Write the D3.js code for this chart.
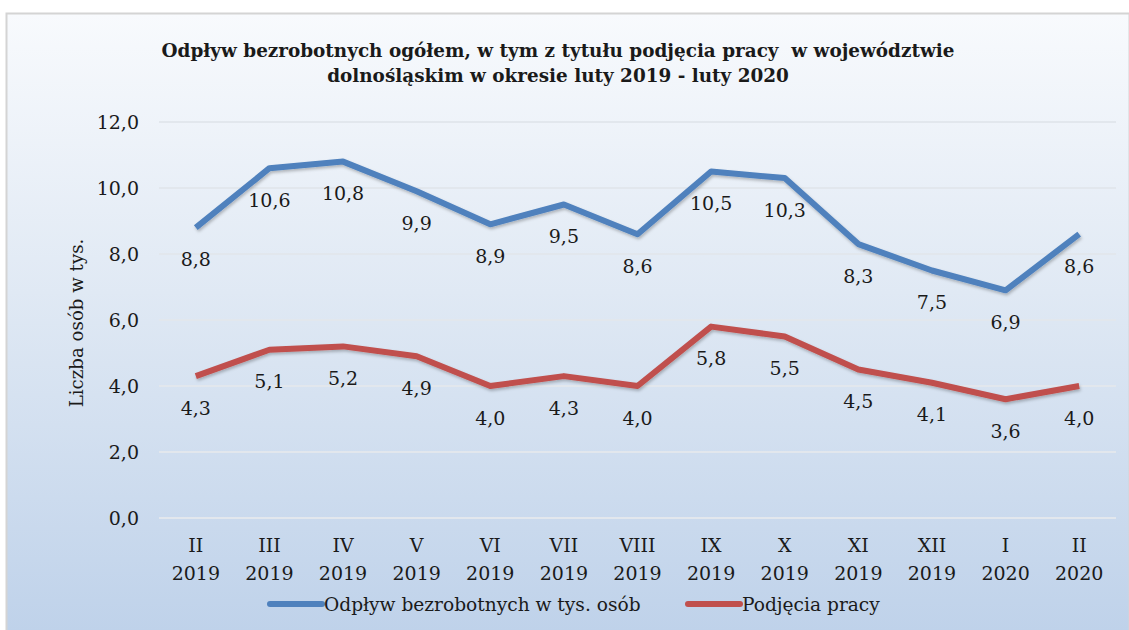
<!DOCTYPE html>
<html>
<head>
<meta charset="utf-8">
<script src="https://cdn.jsdelivr.net/npm/d3@7"></script>
<style>
  body { margin: 0; background: #fff; }
  svg text { font-family: "DejaVu Serif", serif; fill: #1a1a1a; }
</style>
</head>
<body>
<div id="chart"></div>
<script>
var months = ['II', 'III', 'IV', 'V', 'VI', 'VII', 'VIII', 'IX', 'X', 'XI', 'XII', 'I', 'II'];
var years = ['2019', '2019', '2019', '2019', '2019', '2019', '2019', '2019', '2019', '2019', '2019', '2020', '2020'];
var odplyw = [8.8, 10.6, 10.8, 9.9, 8.9, 9.5, 8.6, 10.5, 10.3, 8.3, 7.5, 6.9, 8.6];
var podjecia = [4.3, 5.1, 5.2, 4.9, 4.0, 4.3, 4.0, 5.8, 5.5, 4.5, 4.1, 3.6, 4.0];
var yTicks = [0, 2, 4, 6, 8, 10, 12];
var seriesNames = ['Odpływ bezrobotnych w tys. osób', 'Podjęcia pracy'];
var seriesColors = ['#4f81bd', '#c0504d'];

var width = 1129, height = 630;
var plotLeft = 159, plotRight = 1116, plotTop = 122, plotBottom = 518;

var svg = d3.select('#chart').append('svg')
    .attr('width', width)
    .attr('height', height);

var defs = svg.append('defs');
var grad = defs.append('linearGradient')
    .attr('id', 'bg')
    .attr('x1', 0).attr('y1', 0).attr('x2', 0).attr('y2', 1);
grad.append('stop').attr('offset', '0%').attr('stop-color', '#f8fafd');
grad.append('stop').attr('offset', '45%').attr('stop-color', '#e0e9f4');
grad.append('stop').attr('offset', '100%').attr('stop-color', '#bfd2ea');

var shadow = defs.append('filter').attr('id', 'shadow')
    .attr('x', '-5%').attr('y', '-20%').attr('width', '110%').attr('height', '140%');
shadow.append('feDropShadow')
    .attr('dx', 1).attr('dy', 2).attr('stdDeviation', 1.5)
    .attr('flood-color', '#000').attr('flood-opacity', 0.25);

// chart frame
svg.append('rect')
    .attr('x', 6.5).attr('y', 13.5)
    .attr('width', width - 6).attr('height', height - 12)
    .attr('fill', 'url(#bg)')
    .attr('stroke', '#d4d4d4')
    .attr('stroke-width', 2);

var x = d3.scalePoint().domain(d3.range(months.length)).range([plotLeft, plotRight]).padding(0.5);
var y = d3.scaleLinear().domain([0, 12]).range([plotBottom, plotTop]);

// grid
svg.append('g').selectAll('line')
    .data(yTicks)
    .enter().append('line')
    .attr('x1', plotLeft).attr('x2', plotRight)
    .attr('y1', function(d) { return y(d); })
    .attr('y2', function(d) { return y(d); })
    .attr('stroke', '#e2e7ed')
    .attr('stroke-width', 2);

// y tick labels
svg.append('g').selectAll('text')
    .data(yTicks)
    .enter().append('text')
    .attr('x', 139)
    .attr('y', function(d) { return y(d); })
    .attr('dy', '0.35em')
    .attr('text-anchor', 'end')
    .attr('font-size', 19)
    .text(function(d) { return d3.format('.1f')(d).replace('.', ','); });

// y title
svg.append('text')
    .attr('transform', 'translate(83,' + 323 + ') rotate(-90)')
    .attr('text-anchor', 'middle')
    .attr('font-size', 18.2)
    .text('Liczba osób w tys.');

// x tick labels
var xl = svg.append('g').selectAll('g')
    .data(d3.range(months.length))
    .enter().append('g');
xl.append('text')
    .attr('x', function(d) { return x(d); })
    .attr('y', 552)
    .attr('text-anchor', 'middle')
    .attr('font-size', 19)
    .text(function(d) { return months[d]; });
xl.append('text')
    .attr('x', function(d) { return x(d); })
    .attr('y', 580)
    .attr('text-anchor', 'middle')
    .attr('font-size', 19)
    .text(function(d) { return years[d]; });

// lines
var line = d3.line()
    .x(function(d, i) { return x(i); })
    .y(function(d) { return y(d); });

[odplyw, podjecia].forEach(function(vals, s) {
    svg.append('path')
        .datum(vals)
        .attr('d', line)
        .attr('fill', 'none')
        .attr('stroke', seriesColors[s])
        .attr('stroke-width', 6)
        .attr('stroke-linejoin', 'round')
        .attr('filter', 'url(#shadow)');

    // labels sit below each point
    svg.append('g').selectAll('text')
        .data(vals)
        .enter().append('text')
        .attr('x', function(d, i) { return x(i); })
        .attr('y', function(d) { return y(d) + 32; })
        .attr('dy', '0.35em')
        .attr('text-anchor', 'middle')
        .attr('font-size', 19)
        .text(function(d) { return d3.format('.1f')(d).replace('.', ','); });
});

// legend
var legendX = [270, 688];
seriesNames.forEach(function(name, s) {
    svg.append('line')
        .attr('x1', legendX[s]).attr('x2', legendX[s] + 52)
        .attr('y1', 604).attr('y2', 604)
        .attr('stroke', seriesColors[s])
        .attr('stroke-width', 6)
        .attr('stroke-linecap', 'round');
    svg.append('text')
        .attr('x', legendX[s] + 54)
        .attr('y', 604)
        .attr('dy', '0.35em')
        .attr('font-size', 18.6)
        .text(name);
});

// title
var title = ['Odpływ bezrobotnych ogółem, w tym z tytułu podjęcia pracy  w województwie',
             'dolnośląskim w okresie luty 2019 - luty 2020'];
svg.append('g').selectAll('text')
    .data(title)
    .enter().append('text')
    .attr('x', 558)
    .attr('y', function(d, i) { return 57 + i * 25; })
    .attr('text-anchor', 'middle')
    .attr('font-size', 18.4)
    .attr('font-weight', 'bold')
    .style('white-space', 'pre')
    .text(function(d) { return d; });
</script>
</body>
</html>
